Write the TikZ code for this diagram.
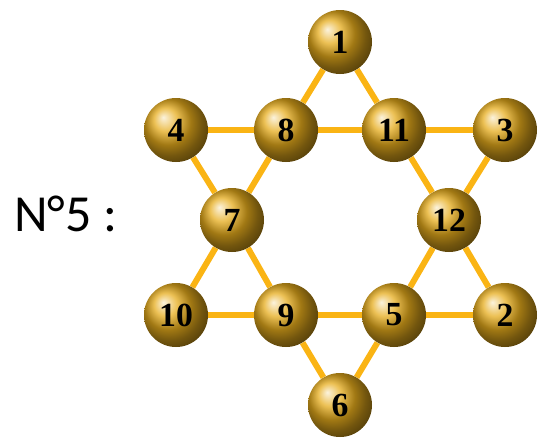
\documentclass[tikz,border=0pt]{standalone}
\usepackage{fontspec}
\setmainfont{Liberation Serif}
\newfontfamily\labelfont{Carlito}
\usepackage{tikz}
\usetikzlibrary{calc,backgrounds}

\definecolor{stickcolor}{RGB}{250,180,20}
\definecolor{ballgold}{RGB}{230,172,28}

\begin{document}
\begin{tikzpicture}[
  x=0.25mm, y=-0.25mm,
  ball/.style={circle, minimum size=16mm, inner sep=0pt, shading=ball,
    ball color=ballgold, font=\fontsize{24}{28}\selectfont\bfseries},
  stick/.style={draw=stickcolor, line width=1.5mm}
]
\useasboundingbox (0,0) rectangle (541,438);

\node[font=\labelfont\fontsize{37}{44}\selectfont] (title) at (66,214) {N°5 :};

% outer points
\node[ball] (n1) at (340,42) {1};
\node[ball] (n4) at (176,130) {4};
\node[ball] (n3) at (505,130) {3};
\node[ball] (n10) at (176,315) {10};
\node[ball] (n2) at (505,315) {2};
\node[ball] (n6) at (340,405) {6};
% inner hexagon
\node[ball] (n8) at (286,130) {8};
\node[ball] (n11) at (394,130) {11};
\node[ball] (n7) at (232,220) {7};
\node[ball] (n12) at (449,220) {12};
\node[ball] (n9) at (286,315) {9};
\node[ball] (n5) at (394,315) {5};

% sticks behind the balls
\begin{pgfonlayer}{background}
\draw[stick] (n1) -- (n8) (n1) -- (n11);
\draw[stick] (n4) -- (n8) -- (n11) -- (n3);
\draw[stick] (n4) -- (n7) (n8) -- (n7);
\draw[stick] (n3) -- (n12) (n11) -- (n12);
\draw[stick] (n7) -- (n10) (n7) -- (n9);
\draw[stick] (n12) -- (n2) (n12) -- (n5);
\draw[stick] (n10) -- (n9) -- (n5) -- (n2);
\draw[stick] (n9) -- (n6) (n5) -- (n6);
\end{pgfonlayer}
\end{tikzpicture}
\end{document}
